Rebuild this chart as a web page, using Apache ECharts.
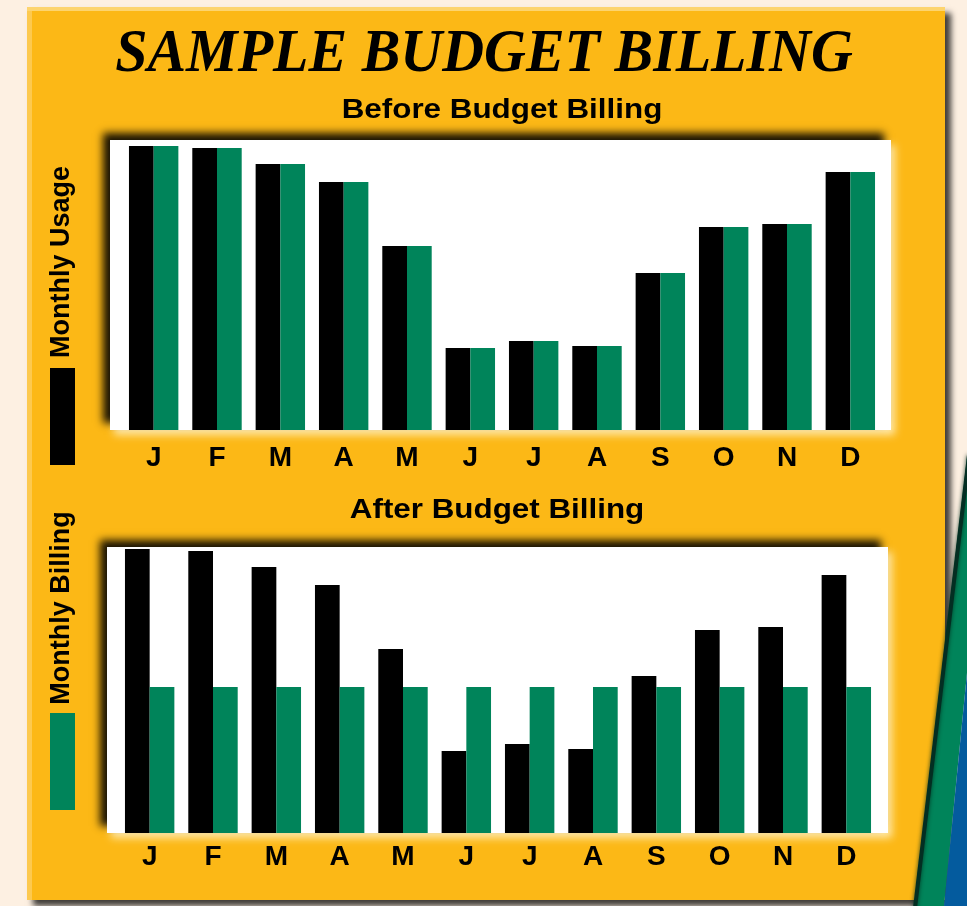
<!DOCTYPE html>
<html>
<head>
<meta charset="utf-8">
<script src="https://cdn.jsdelivr.net/npm/echarts@6/dist/echarts.min.js"></script>
<style>
html,body{margin:0;padding:0;background:#FDF0E2;}
#chart{width:967px;height:906px;}
</style>
</head>
<body>
<div id="chart"></div>
<script>
// ---- data (relative units) ----
const months = ['J','F','M','A','M','J','J','A','S','O','N','D'];
const monthlyUsage = [284,282,266,248,184,82,89,84,157,203,206,258];
const billingBefore = [284,282,266,248,184,82,89,84,157,203,206,258];
const billingAfter = [146,146,146,146,146,146,146,146,146,146,146,146];

const titleText = 'SAMPLE BUDGET BILLING';
const topTitle = 'Before Budget Billing';
const bottomTitle = 'After Budget Billing';
const usageLabel = 'Monthly Usage';
const billingLabel = 'Monthly Billing';

const GOLD = '#FCB816';
const GREEN = '#00845A';
const BLACK = '#000000';

const chart = echarts.init(document.getElementById('chart'), null, {renderer:'canvas'});

function plotBox(x, y, w, h) {
  return [
    { type:'rect', z:1, shape:{x:x, y:y, width:w, height:h},
      style:{fill:'#FFE7A0', shadowColor:'rgba(255,236,180,0.95)', shadowBlur:8, shadowOffsetX:4, shadowOffsetY:5} },
    { type:'rect', z:1, shape:{x:x, y:y, width:w, height:h},
      style:{fill:'#FFFFFF', shadowColor:'rgba(0,0,0,0.9)', shadowBlur:8, shadowOffsetX:-7, shadowOffsetY:-7} }
  ];
}

const graphics = [
  // gold panel
  { type:'rect', z:0, shape:{x:27, y:7, width:918, height:893},
    style:{fill:GOLD, shadowColor:'rgba(0,0,0,0.75)', shadowBlur:6, shadowOffsetX:6, shadowOffsetY:6} },
  { type:'rect', z:0, shape:{x:27, y:7, width:5, height:893}, style:{fill:'#FDC94E'} },
  { type:'rect', z:0, shape:{x:27, y:7, width:918, height:4}, style:{fill:'#FDD46E'} },
  ...plotBox(110, 140, 781, 290),
  ...plotBox(107, 547, 781, 286),
  // swoosh bottom right
  { type:'polygon', z:1, shape:{points:[[967,458],[914,906],[944,906],[967,673]]},
    style:{fill:GREEN} },
  { type:'polygon', z:1, shape:{points:[[967,673],[944,906],[967,906]]},
    style:{fill:'#045B9E'} },
  { type:'line', z:1, shape:{x1:969, y1:455, x2:915, y2:908},
    style:{stroke:'#032E22', lineWidth:4, shadowColor:'rgba(0,40,25,0.8)', shadowBlur:4} },
  // titles
  { type:'text', z:5, x:484, y:55, scaleX:0.935,
    style:{text:titleText, fill:'#000', font:'italic bold 62px "Liberation Serif", "DejaVu Serif", serif',
      align:'center', verticalAlign:'middle'} },
  { type:'text', z:5, x:502, y:110, scaleX:1.12,
    style:{text:topTitle, fill:'#000', font:'bold 28px "Liberation Sans", Arial, sans-serif',
      align:'center', verticalAlign:'middle'} },
  { type:'text', z:5, x:497, y:510, scaleX:1.12,
    style:{text:bottomTitle, fill:'#000', font:'bold 28px "Liberation Sans", Arial, sans-serif',
      align:'center', verticalAlign:'middle'} },
  // side legend
  { type:'text', z:5, x:62, y:262, rotation:Math.PI/2,
    style:{text:usageLabel, fill:'#000', font:'bold 27px "Liberation Sans", Arial, sans-serif',
      align:'center', verticalAlign:'middle'} },
  { type:'rect', z:5, shape:{x:50, y:368, width:25, height:97}, style:{fill:BLACK} },
  { type:'text', z:5, x:62, y:608, rotation:Math.PI/2,
    style:{text:billingLabel, fill:'#000', font:'bold 27px "Liberation Sans", Arial, sans-serif',
      align:'center', verticalAlign:'middle'} },
  { type:'rect', z:5, shape:{x:50, y:713, width:25, height:97}, style:{fill:GREEN} }
];

const catAxisBase = {
  type:'category', data:months,
  axisLine:{show:false}, axisTick:{show:false}, splitLine:{show:false},
  axisLabel:{color:'#000', fontWeight:'bold', fontSize:28, fontFamily:'"Liberation Sans", Arial, sans-serif', interval:0}
};
const valAxisBase = {
  type:'value', min:0, show:false, splitLine:{show:false}
};

const barBase = { type:'bar', barGap:'0%', barCategoryGap:'22%', animation:false };

chart.setOption({
  backgroundColor:'#FDF0E2',
  animation:false,
  graphic:{elements:graphics},
  grid:[
    {left:122, width:760, top:140, height:290},
    {left:118, width:760, top:547, height:286}
  ],
  xAxis:[
    Object.assign({}, catAxisBase, {gridIndex:0, axisLabel:Object.assign({}, catAxisBase.axisLabel, {margin:14})}),
    Object.assign({}, catAxisBase, {gridIndex:1, axisLabel:Object.assign({}, catAxisBase.axisLabel, {margin:10})})
  ],
  yAxis:[
    Object.assign({}, valAxisBase, {gridIndex:0, max:290}),
    Object.assign({}, valAxisBase, {gridIndex:1, max:286})
  ],
  series:[
    Object.assign({}, barBase, {name:usageLabel, xAxisIndex:0, yAxisIndex:0, data:monthlyUsage, itemStyle:{color:BLACK}}),
    Object.assign({}, barBase, {name:billingLabel, xAxisIndex:0, yAxisIndex:0, data:billingBefore, itemStyle:{color:GREEN}}),
    Object.assign({}, barBase, {name:usageLabel, xAxisIndex:1, yAxisIndex:1, data:monthlyUsage, itemStyle:{color:BLACK}}),
    Object.assign({}, barBase, {name:billingLabel, xAxisIndex:1, yAxisIndex:1, data:billingAfter, itemStyle:{color:GREEN}})
  ]
});
</script>
</body>
</html>
